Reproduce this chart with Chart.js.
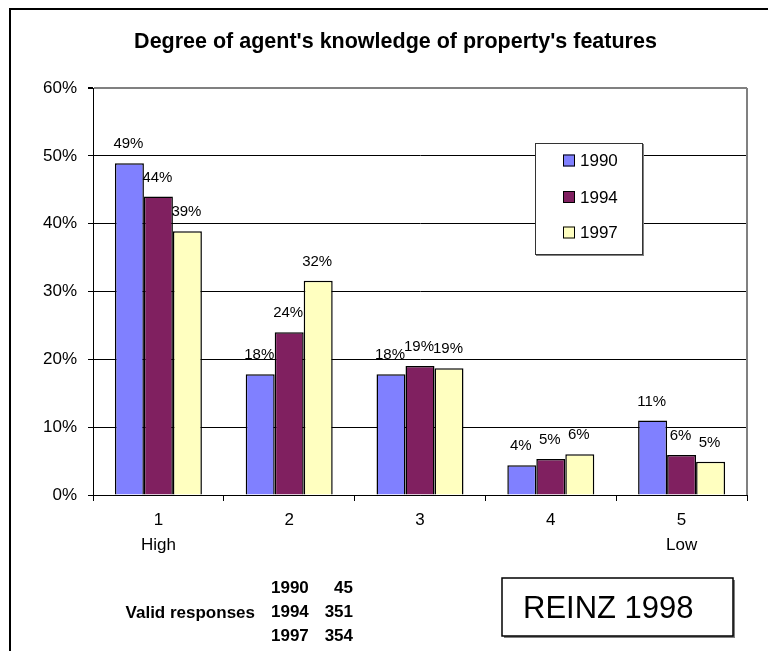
<!DOCTYPE html>
<html>
<head>
<meta charset="utf-8">
<script src="https://cdn.jsdelivr.net/npm/chart.js@4/dist/chart.umd.min.js"></script>
<style>
  html, body { margin: 0; padding: 0; background: #fff; }
  #wrap { position: relative; width: 768px; height: 651px; }
</style>
</head>
<body>
<div id="wrap"><canvas id="c" width="768" height="651"></canvas></div>
<script>
const categories = [['1', 'High'], ['2'], ['3'], ['4'], ['5', 'Low']];
const seriesNames = ['1990', '1994', '1997'];
const values1990 = [48.9, 17.8, 17.8, 4.4, 11.0];
const values1994 = [44.0, 24.0, 19.0, 5.3, 5.9];
const values1997 = [38.9, 31.6, 18.7, 6.0, 4.9];
const yTicks = [0, 10, 20, 30, 40, 50, 60];
const responseYears = ['1990', '1994', '1997'];
const responseCounts = [45, 351, 354];
const titleText = "Degree of agent's knowledge of property's features";
const sourceText = 'REINZ 1998';

const FONT = "'Liberation Sans', Arial, Helvetica, sans-serif";
const colors = ['#8080FF', '#802060', '#FFFFC0'];

const extras = {
  id: 'extras',
  beforeDraw(chart) {
    const ctx = chart.ctx;
    ctx.save();
    ctx.fillStyle = '#fff';
    ctx.fillRect(0, 0, chart.width, chart.height);
    ctx.strokeStyle = '#000';
    ctx.lineWidth = 2;
    ctx.beginPath();
    ctx.moveTo(768, 9);
    ctx.lineTo(10, 9);
    ctx.lineTo(10, 651);
    ctx.stroke();
    ctx.restore();
  },
  afterDatasetsDraw(chart) {
    const ctx = chart.ctx;
    ctx.save();
    ctx.font = '15px ' + FONT;
    ctx.fillStyle = '#000';
    ctx.textAlign = 'center';
    ctx.textBaseline = 'middle';
    chart.data.datasets.forEach((ds, i) => {
      const meta = chart.getDatasetMeta(i);
      meta.data.forEach((bar, j) => {
        ctx.fillText(Math.round(ds.data[j]) + '%', bar.x - 1, bar.y - 19);
      });
    });
    ctx.restore();
  },
  afterDraw(chart) {
    const ctx = chart.ctx;
    const a = chart.chartArea;
    ctx.save();
    // title
    ctx.font = 'bold 21.5px ' + FONT;
    ctx.fillStyle = '#000';
    ctx.textAlign = 'center';
    ctx.textBaseline = 'middle';
    ctx.fillText(titleText, 395.5, 42);

    // plot area right border
    ctx.strokeStyle = '#808080';
    ctx.lineWidth = 2;
    ctx.beginPath();
    ctx.moveTo(a.right, a.top);
    ctx.lineTo(a.right, a.bottom);
    ctx.stroke();

    // legend box
    const lx = 535, ly = 143, lw = 108, lh = 112;
    ctx.fillStyle = '#fff';
    ctx.fillRect(lx, ly, lw, lh);
    ctx.strokeStyle = '#808080';
    ctx.lineWidth = 2;
    ctx.beginPath();
    ctx.moveTo(lx + lw, ly + 1);
    ctx.lineTo(lx + lw, ly + lh);
    ctx.lineTo(lx + 1, ly + lh);
    ctx.stroke();
    ctx.strokeStyle = '#333';
    ctx.lineWidth = 1;
    ctx.strokeRect(lx + 0.5, ly + 0.5, lw - 1, lh - 1);
    const rowsY = [160.5, 197, 232.5];
    ctx.font = '17px ' + FONT;
    ctx.textAlign = 'left';
    ctx.textBaseline = 'middle';
    chart.data.datasets.forEach((ds, i) => {
      const y = rowsY[i];
      ctx.fillStyle = ds.backgroundColor;
      ctx.fillRect(563, y - 6, 12, 12);
      ctx.strokeStyle = '#000';
      ctx.lineWidth = 1;
      ctx.strokeRect(563.5, y - 5.5, 11, 11);
      ctx.fillStyle = '#000';
      ctx.fillText(ds.label, 580, y + 1);
    });

    // valid responses block
    ctx.font = 'bold 17px ' + FONT;
    ctx.fillStyle = '#000';
    ctx.textAlign = 'right';
    ctx.fillText('Valid responses', 255, 613);
    const ry = [588, 612, 636];
    responseYears.forEach((yr, i) => {
      ctx.textAlign = 'left';
      ctx.fillText(yr, 271, ry[i]);
      ctx.textAlign = 'right';
      ctx.fillText(String(responseCounts[i]), 353, ry[i]);
    });

    // source box
    const bx = 502, by = 578, bw = 231, bh = 58;
    ctx.strokeStyle = '#808080';
    ctx.lineWidth = 2;
    ctx.beginPath();
    ctx.moveTo(bx + bw + 1, by + 2);
    ctx.lineTo(bx + bw + 1, by + bh + 1);
    ctx.lineTo(bx + 2, by + bh + 1);
    ctx.stroke();
    ctx.strokeStyle = '#000';
    ctx.lineWidth = 1.5;
    ctx.strokeRect(bx, by, bw, bh);
    ctx.font = '31px ' + FONT;
    ctx.textAlign = 'left';
    ctx.textBaseline = 'middle';
    ctx.fillText(sourceText, 523, 609);
    ctx.restore();
  }
};

const datasets = [values1990, values1994, values1997].map((vals, i) => ({
  label: seriesNames[i],
  data: vals,
  backgroundColor: colors[i],
  borderColor: '#000',
  borderWidth: 1.5,
  categoryPercentage: 0.665,
  barPercentage: 1.0
}));

new Chart(document.getElementById('c'), {
  type: 'bar',
  data: { labels: categories, datasets },
  plugins: [extras],
  options: {
    responsive: false,
    animation: false,
    layout: { padding: { left: 0, right: 21, top: 88, bottom: 0 } },
    plugins: {
      legend: { display: false },
      tooltip: { enabled: false },
      title: { display: false }
    },
    scales: {
      x: {
        grid: {
          offset: true,
          drawOnChartArea: false,
          drawTicks: true,
          tickLength: 6,
          color: '#000'
        },
        border: { display: true, color: '#000', width: 1 },
        ticks: {
          color: '#000',
          font: { family: FONT, size: 17, lineHeight: 25 / 17 },
          padding: 6.5,
          maxRotation: 0,
          autoSkip: false
        },
        afterFit(scale) { scale.height = 156; }
      },
      y: {
        min: 0,
        max: 60,
        afterBuildTicks(scale) { scale.ticks = yTicks.map(v => ({ value: v })); },
        grid: {
          color: ctx => (ctx.tick && ctx.tick.value === 60) ? '#808080' : '#000',
          lineWidth: ctx => (ctx.tick && ctx.tick.value === 60) ? 2 : 1,
          tickColor: '#000',
          tickLength: 5,
          drawTicks: true
        },
        border: { display: true, color: '#000', width: 1 },
        ticks: {
          color: '#000',
          font: { family: FONT, size: 17 },
          padding: 11,
          callback: v => v + '%'
        },
        afterFit(scale) { scale.width = 93; }
      }
    }
  }
});
</script>
</body>
</html>
